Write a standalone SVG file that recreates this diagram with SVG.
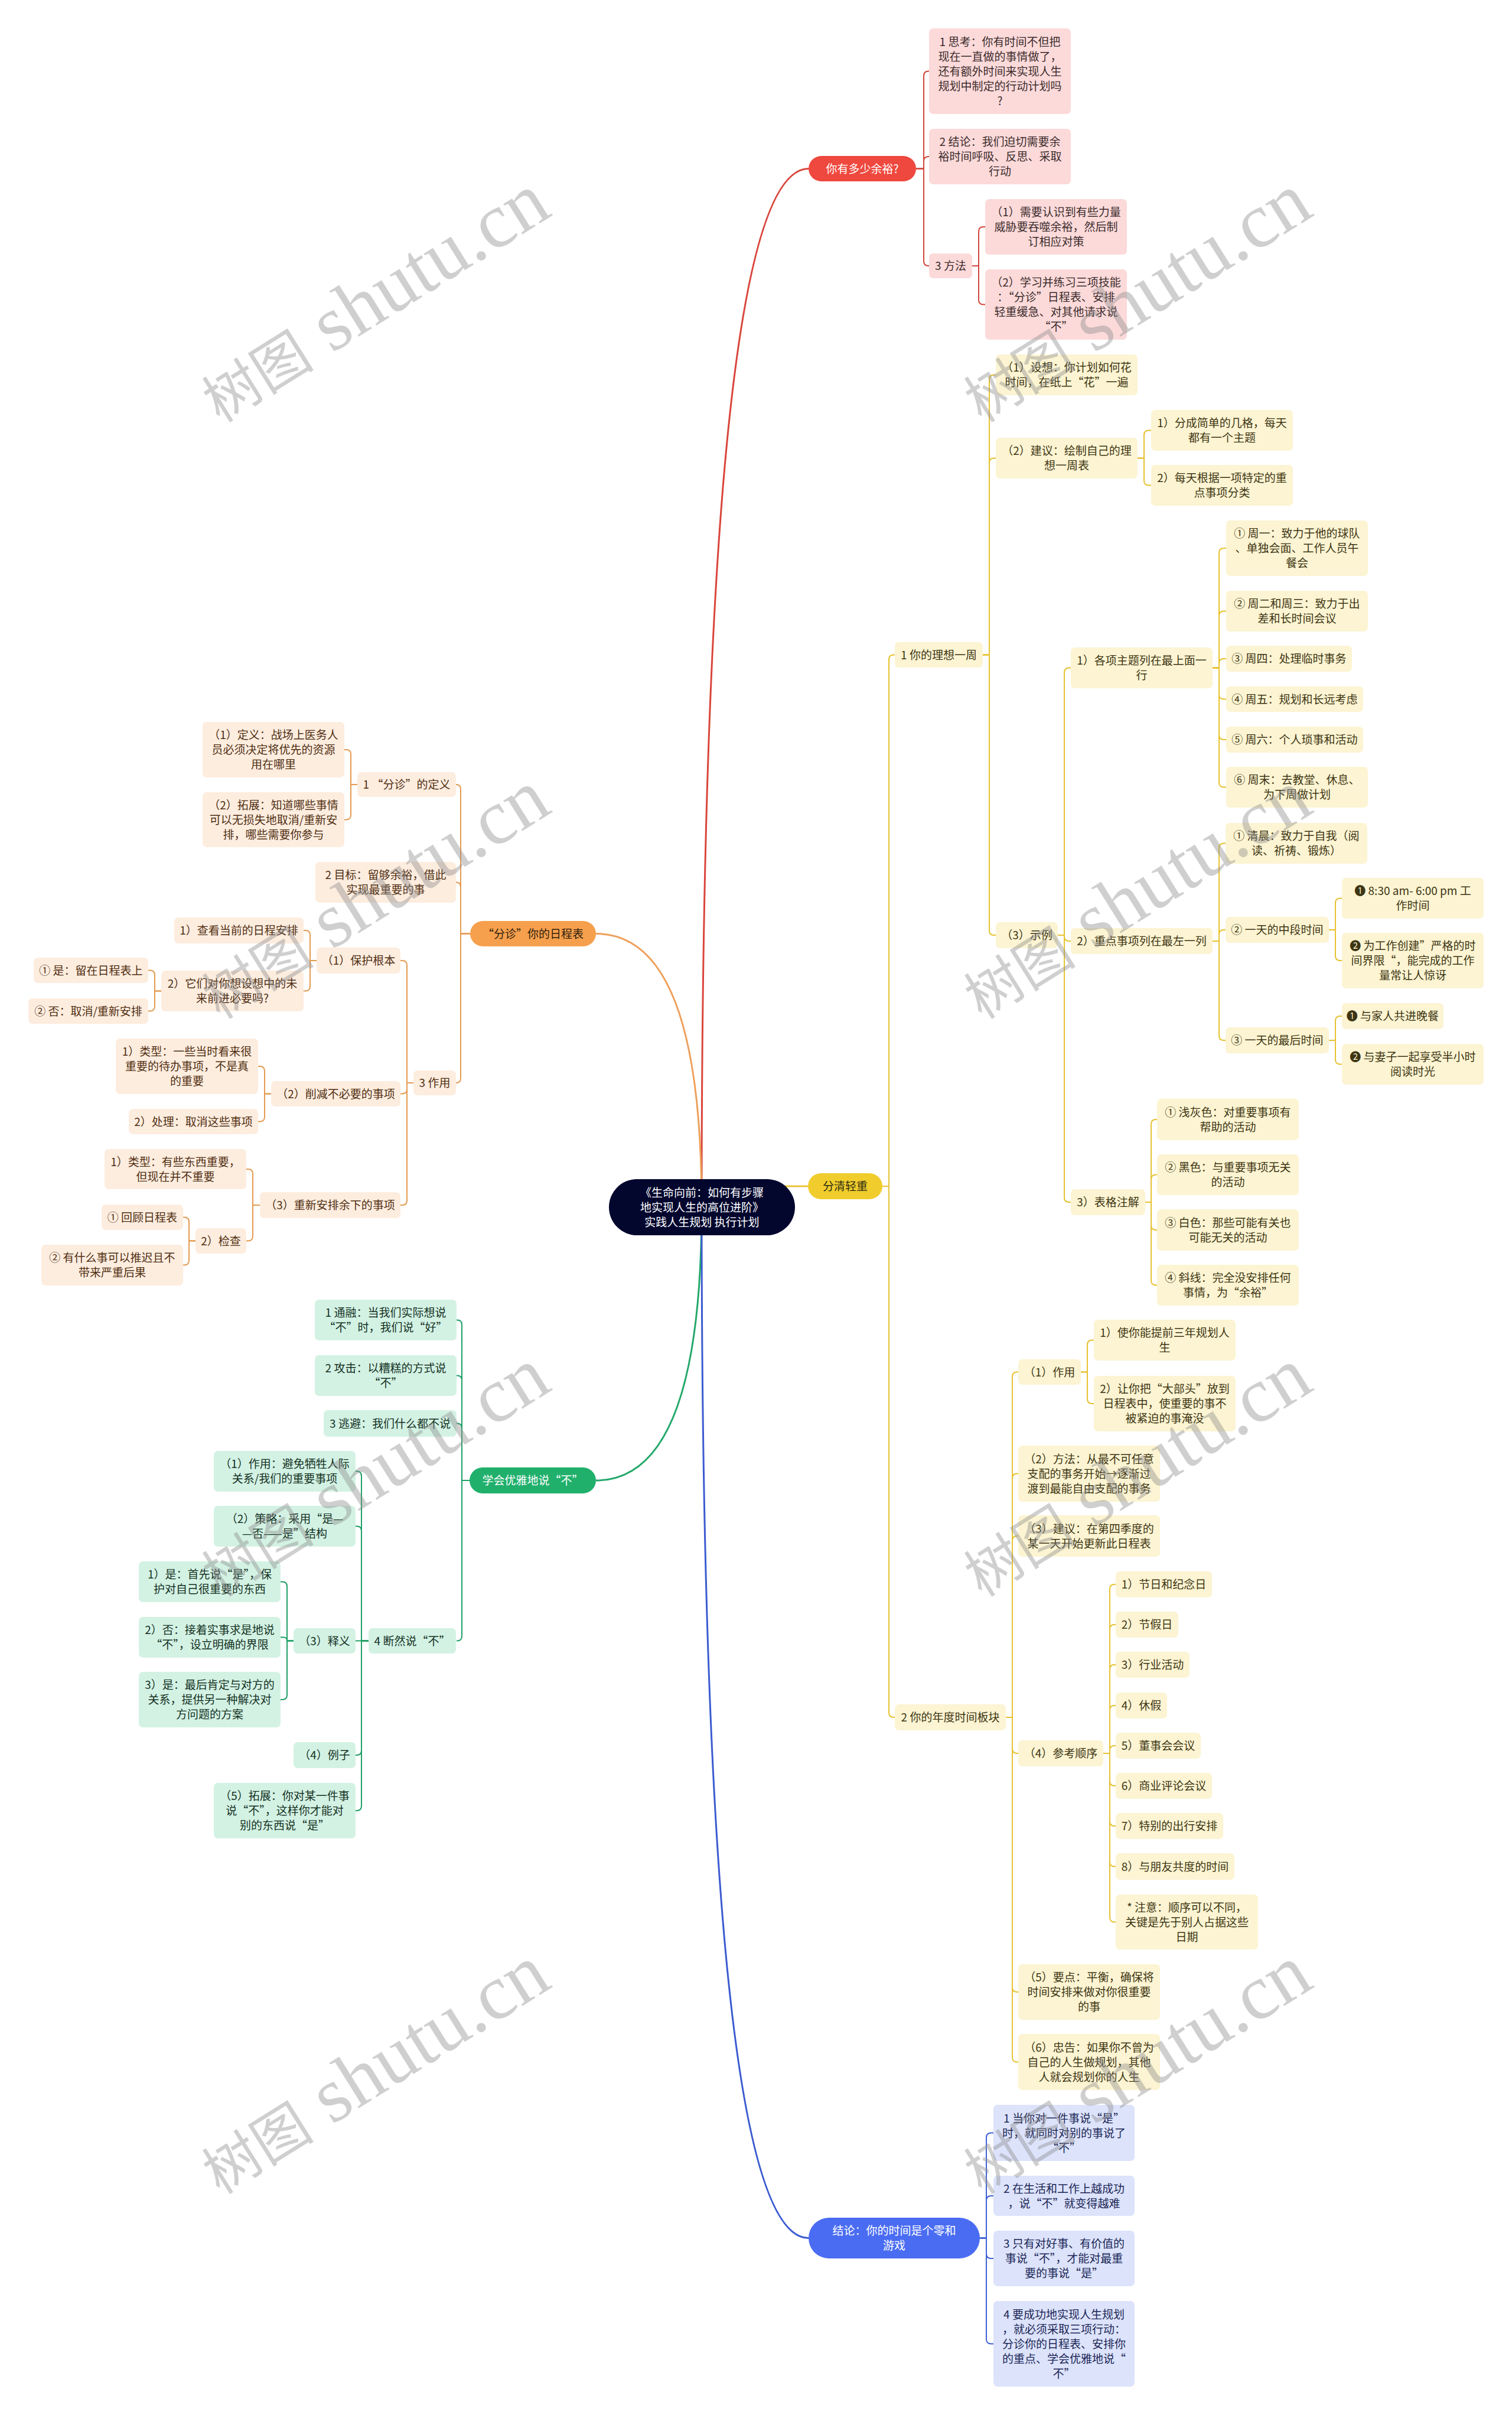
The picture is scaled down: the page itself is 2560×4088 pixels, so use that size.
<svg xmlns="http://www.w3.org/2000/svg" width="2560" height="4088" viewBox="0 0 2560 4088">
<style>
text{font-family:"Noto Sans CJK SC","Liberation Sans",sans-serif;font-size:19px;text-anchor:middle}
.c path{fill:none;stroke-width:2}
.m path{fill:none;stroke-width:3}
.cr path{stroke:#d2463c}.cy path{stroke:#e6c230}.co path{stroke:#e39a50}.cg path{stroke:#1f9f66}.cb path{stroke:#3f5fd6}
.nr rect{fill:#fcdada}.nr text{fill:#3a2b2b}
.ny rect{fill:#fcf4d2}.ny text{fill:#3d3513}
.no rect{fill:#fdeddf}.no text{fill:#4f2e12}
.ng rect{fill:#d3f2e4}.ng text{fill:#14301f}
.nb rect{fill:#dce3fb}.nb text{fill:#1b2555}
.w text{fill:#ffffff}
.wm{font-family:"Liberation Serif","Noto Sans CJK SC",serif;fill:#8c8c8c;fill-opacity:.42;text-anchor:middle}
</style>
<rect width="2560" height="4088" fill="#ffffff"/>
<g id="main-connectors" class="m">
<path d="M1188,2043 Q1188,285.5 1369,285.5" stroke="#d9453b"/>
<path d="M1188,2043 Q1188,1580.5 1009,1580.5" stroke="#eea05a"/>
<path d="M1188,2008 H1368" stroke="#e9c53a"/>
<path d="M1188,2043 Q1188,2506 1009,2506" stroke="#23a86a"/>
<path d="M1188,2043 Q1188,3788.5 1369,3788.5" stroke="#3b5bd0"/>
</g>
<g id="connectors" class="c">
<g class="cr">
<path d="M1551,285.5 H1564 V128.5 Q1564,120.5 1572,120.5 H1573"/>
<path d="M1551,285.5 H1564 V273 Q1564,265 1572,265 H1573"/>
<path d="M1551,285.5 H1564 V442 Q1564,450 1572,450 H1573"/>
<path d="M1646,450 H1657 V392 Q1657,384 1665,384 H1668"/>
<path d="M1646,450 H1657 V507.5 Q1657,515.5 1665,515.5 H1668"/>
</g>
<g class="cy">
<path d="M1494,2008 H1505 V1116.5 Q1505,1108.5 1513,1108.5 H1515"/>
<path d="M1494,2008 H1505 V2899 Q1505,2907 1513,2907 H1515"/>
<path d="M1664,1108.5 H1675 V642.5 Q1675,634.5 1683,634.5 H1686"/>
<path d="M1664,1108.5 H1675 V783.5 Q1675,775.5 1683,775.5 H1686"/>
<path d="M1664,1108.5 H1675 V1575 Q1675,1583 1683,1583 H1686"/>
<path d="M1926,775.5 H1937 V736.5 Q1937,728.5 1945,728.5 H1949"/>
<path d="M1926,775.5 H1937 V813.5 Q1937,821.5 1945,821.5 H1949"/>
<path d="M1791,1583 H1802 V1138.5 Q1802,1130.5 1810,1130.5 H1813"/>
<path d="M1791,1583 H1802 V1585 Q1802,1593 1810,1593 H1813"/>
<path d="M1791,1583 H1802 V2027 Q1802,2035 1810,2035 H1813"/>
<path d="M2053,1130.5 H2064 V936 Q2064,928 2072,928 H2076"/>
<path d="M2053,1130.5 H2064 V1042.5 Q2064,1034.5 2072,1034.5 H2076"/>
<path d="M2053,1130.5 H2064 V1123 Q2064,1115 2072,1115 H2076"/>
<path d="M2053,1130.5 H2064 V1175.5 Q2064,1183.5 2072,1183.5 H2076"/>
<path d="M2053,1130.5 H2064 V1244 Q2064,1252 2072,1252 H2076"/>
<path d="M2053,1130.5 H2064 V1324.5 Q2064,1332.5 2072,1332.5 H2076"/>
<path d="M2053,1593 H2064 V1435.5 Q2064,1427.5 2072,1427.5 H2075"/>
<path d="M2053,1593 H2064 V1582 Q2064,1574 2072,1574 H2075"/>
<path d="M2053,1593 H2064 V1753 Q2064,1761 2072,1761 H2075"/>
<path d="M2250,1574 H2261 V1528.5 Q2261,1520.5 2269,1520.5 H2272"/>
<path d="M2250,1574 H2261 V1618 Q2261,1626 2269,1626 H2272"/>
<path d="M2250,1761 H2261 V1728 Q2261,1720 2269,1720 H2272"/>
<path d="M2250,1761 H2261 V1793.5 Q2261,1801.5 2269,1801.5 H2272"/>
<path d="M1939,2035 H1949 V1903 Q1949,1895 1957,1895 H1959"/>
<path d="M1939,2035 H1949 V1996.5 Q1949,1988.5 1957,1988.5 H1959"/>
<path d="M1939,2035 H1949 V2074 Q1949,2082 1957,2082 H1959"/>
<path d="M1939,2035 H1949 V2167.5 Q1949,2175.5 1957,2175.5 H1959"/>
<path d="M1703,2907 H1714 V2330.5 Q1714,2322.5 1722,2322.5 H1724"/>
<path d="M1703,2907 H1714 V2502.5 Q1714,2494.5 1722,2494.5 H1724"/>
<path d="M1703,2907 H1714 V2608 Q1714,2600 1722,2600 H1724"/>
<path d="M1703,2907 H1714 V2960 Q1714,2968 1722,2968 H1724"/>
<path d="M1703,2907 H1714 V3364 Q1714,3372 1722,3372 H1724"/>
<path d="M1703,2907 H1714 V3482.5 Q1714,3490.5 1722,3490.5 H1724"/>
<path d="M1830,2322.5 H1841 V2276.5 Q1841,2268.5 1849,2268.5 H1852"/>
<path d="M1830,2322.5 H1841 V2368 Q1841,2376 1849,2376 H1852"/>
<path d="M1868,2968 H1879 V2690 Q1879,2682 1887,2682 H1889"/>
<path d="M1868,2968 H1879 V2758 Q1879,2750 1887,2750 H1889"/>
<path d="M1868,2968 H1879 V2826 Q1879,2818 1887,2818 H1889"/>
<path d="M1868,2968 H1879 V2895 Q1879,2887 1887,2887 H1889"/>
<path d="M1868,2968 H1879 V2963 Q1879,2955 1887,2955 H1889"/>
<path d="M1868,2968 H1879 V3015 Q1879,3023 1887,3023 H1889"/>
<path d="M1868,2968 H1879 V3083 Q1879,3091 1887,3091 H1889"/>
<path d="M1868,2968 H1879 V3151.5 Q1879,3159.5 1887,3159.5 H1889"/>
<path d="M1868,2968 H1879 V3245.5 Q1879,3253.5 1887,3253.5 H1889"/>
</g>
<g class="co">
<path d="M796,1580.5 H780 V1336 Q780,1328 772,1328"/>
<path d="M796,1580.5 H780 V1501.5 Q780,1493.5 772,1493.5"/>
<path d="M796,1580.5 H780 V1825 Q780,1833 772,1833"/>
<path d="M605,1328 H594 V1277 Q594,1269 586,1269 H583"/>
<path d="M605,1328 H594 V1379.5 Q594,1387.5 586,1387.5 H583"/>
<path d="M700,1833 H689 V1634 Q689,1626 681,1626 H678"/>
<path d="M700,1833 H689 V1843.5 Q689,1851.5 681,1851.5 H678"/>
<path d="M700,1833 H689 V2032 Q689,2040 681,2040 H678"/>
<path d="M536,1626 H525 V1583 Q525,1575 517,1575 H514"/>
<path d="M536,1626 H525 V1669.5 Q525,1677.5 517,1677.5 H514"/>
<path d="M273,1677.5 H262 V1650.5 Q262,1642.5 254,1642.5 H251"/>
<path d="M273,1677.5 H262 V1703.5 Q262,1711.5 254,1711.5 H251"/>
<path d="M459,1851.5 H448 V1813 Q448,1805 440,1805 H437"/>
<path d="M459,1851.5 H448 V1890.5 Q448,1898.5 440,1898.5 H437"/>
<path d="M440,2040 H428 V1987 Q428,1979 420,1979 H417"/>
<path d="M440,2040 H428 V2092.5 Q428,2100.5 420,2100.5 H417"/>
<path d="M331,2100.5 H320 V2068.5 Q320,2060.5 312,2060.5 H310"/>
<path d="M331,2100.5 H320 V2133.5 Q320,2141.5 312,2141.5 H310"/>
</g>
<g class="cg">
<path d="M795,2506 H782 V2242.5 Q782,2234.5 774,2234.5 H773"/>
<path d="M795,2506 H782 V2336.5 Q782,2328.5 774,2328.5 H773"/>
<path d="M795,2506 H782 V2417.5 Q782,2409.5 774,2409.5 H773"/>
<path d="M795,2506 H782 V2769.5 Q782,2777.5 774,2777.5 H773"/>
<path d="M624,2777.5 H612 V2498.5 Q612,2490.5 604,2490.5 H602"/>
<path d="M624,2777.5 H612 V2591.5 Q612,2583.5 604,2583.5 H602"/>
<path d="M624,2777.5 H602"/>
<path d="M624,2777.5 H612 V2963 Q612,2971 604,2971 H602"/>
<path d="M624,2777.5 H612 V3057 Q612,3065 604,3065 H602"/>
<path d="M497,2777.5 H486 V2685.5 Q486,2677.5 478,2677.5 H475"/>
<path d="M497,2777.5 H486 Q486,2771.5 480,2771.5 H475"/>
<path d="M497,2777.5 H486 V2869 Q486,2877 478,2877 H475"/>
</g>
<g class="cb">
<path d="M1659,3788.5 H1670 V3618.5 Q1670,3610.5 1678,3610.5 H1682"/>
<path d="M1659,3788.5 H1670 V3725 Q1670,3717 1678,3717 H1682"/>
<path d="M1659,3788.5 H1670 V3815 Q1670,3823 1678,3823 H1682"/>
<path d="M1659,3788.5 H1670 V3959.5 Q1670,3967.5 1678,3967.5 H1682"/>
</g>
</g>

<g id="root" class="w"><rect x="1031" y="1996" width="315" height="95" rx="47.5" fill="#03072e"/><text><tspan x="1188.5" y="2025.5">《生命向前：如何有步骤</tspan><tspan x="1188.5" y="2050.5">地实现人生的高位进阶》</tspan><tspan x="1188.5" y="2075.5">实践人生规划 执行计划</tspan></text></g>

<g id="r0" class="w"><rect x="1369" y="264" width="182" height="43" rx="21.5" fill="#ef483e"/><text x="1460" y="292.5">你有多少余裕?</text></g>
<g id="r1" class="nr"><rect x="1573" y="48" width="240" height="145" rx="7"/><text><tspan x="1693" y="77.5">1 思考：你有时间不但把</tspan><tspan x="1693" y="102.5">现在一直做的事情做了，</tspan><tspan x="1693" y="127.5">还有额外时间来实现人生</tspan><tspan x="1693" y="152.5">规划中制定的行动计划吗</tspan><tspan x="1693" y="177.5">?</tspan></text></g>
<g id="r2" class="nr"><rect x="1573" y="218" width="240" height="94" rx="7"/><text><tspan x="1693" y="247">2 结论：我们迫切需要余</tspan><tspan x="1693" y="272">裕时间呼吸、反思、采取</tspan><tspan x="1693" y="297">行动</tspan></text></g>
<g id="r3" class="nr"><rect x="1573" y="429" width="73" height="42" rx="7"/><text x="1609.5" y="457">3 方法</text></g>
<g id="r31" class="nr"><rect x="1668" y="337" width="240" height="94" rx="7"/><text><tspan x="1788" y="366">（1）需要认识到有些力量</tspan><tspan x="1788" y="391">威胁要吞噬余裕，然后制</tspan><tspan x="1788" y="416">订相应对策</tspan></text></g>
<g id="r32" class="nr"><rect x="1668" y="456" width="240" height="119" rx="7"/><text><tspan x="1788" y="485">（2）学习并练习三项技能</tspan><tspan x="1788" y="510">：“分诊”日程表、安排</tspan><tspan x="1788" y="535">轻重缓急、对其他请求说</tspan><tspan x="1788" y="560">“不”</tspan></text></g>

<g id="y0"><rect x="1368" y="1986" width="126" height="44" rx="22" fill="#f0cd2c"/><text x="1431" y="2015" fill="#2e2a12">分清轻重</text></g>
<g id="y1" class="ny"><rect x="1515" y="1087" width="149" height="43" rx="7"/><text x="1589.5" y="1115.5">1 你的理想一周</text></g>
<g id="y11" class="ny"><rect x="1686" y="600" width="240" height="69" rx="7"/><text><tspan x="1806" y="629">（1）设想：你计划如何花</tspan><tspan x="1806" y="654">时间，在纸上“花”一遍</tspan></text></g>
<g id="y12" class="ny"><rect x="1686" y="741" width="240" height="69" rx="7"/><text><tspan x="1806" y="770">（2）建议：绘制自己的理</tspan><tspan x="1806" y="795">想一周表</tspan></text></g>
<g id="y121" class="ny"><rect x="1949" y="694" width="240" height="69" rx="7"/><text><tspan x="2069" y="723">1）分成简单的几格，每天</tspan><tspan x="2069" y="748">都有一个主题</tspan></text></g>
<g id="y122" class="ny"><rect x="1949" y="787" width="240" height="69" rx="7"/><text><tspan x="2069" y="816">2）每天根据一项特定的重</tspan><tspan x="2069" y="841">点事项分类</tspan></text></g>
<g id="y13" class="ny"><rect x="1686" y="1561" width="105" height="44" rx="7"/><text x="1738.5" y="1590">（3）示例</text></g>
<g id="y131" class="ny"><rect x="1813" y="1096" width="240" height="69" rx="7"/><text><tspan x="1933" y="1125">1）各项主题列在最上面一</tspan><tspan x="1933" y="1150">行</tspan></text></g>
<g id="y1311" class="ny"><rect x="2076" y="881" width="240" height="94" rx="7"/><text><tspan x="2196" y="910">① 周一：致力于他的球队</tspan><tspan x="2196" y="935">、单独会面、工作人员午</tspan><tspan x="2196" y="960">餐会</tspan></text></g>
<g id="y1312" class="ny"><rect x="2076" y="1000" width="240" height="69" rx="7"/><text><tspan x="2196" y="1029">② 周二和周三：致力于出</tspan><tspan x="2196" y="1054">差和长时间会议</tspan></text></g>
<g id="y1313" class="ny"><rect x="2076" y="1093" width="213" height="44" rx="7"/><text x="2182.5" y="1122">③ 周四：处理临时事务</text></g>
<g id="y1314" class="ny"><rect x="2076" y="1162" width="232" height="43" rx="7"/><text x="2192" y="1190.5">④ 周五：规划和长远考虑</text></g>
<g id="y1315" class="ny"><rect x="2076" y="1230" width="232" height="44" rx="7"/><text x="2192" y="1259">⑤ 周六：个人琐事和活动</text></g>
<g id="y1316" class="ny"><rect x="2076" y="1298" width="240" height="69" rx="7"/><text><tspan x="2196" y="1327">⑥ 周末：去教堂、休息、</tspan><tspan x="2196" y="1352">为下周做计划</tspan></text></g>
<g id="y132" class="ny"><rect x="1813" y="1571" width="240" height="44" rx="7"/><text x="1933" y="1600">2）重点事项列在最左一列</text></g>
<g id="y1321" class="ny"><rect x="2075" y="1393" width="240" height="69" rx="7"/><text><tspan x="2195" y="1422">① 清晨：致力于自我（阅</tspan><tspan x="2195" y="1447">读、祈祷、锻炼）</tspan></text></g>
<g id="y1322" class="ny"><rect x="2075" y="1552" width="175" height="44" rx="7"/><text x="2162.5" y="1581">② 一天的中段时间</text></g>
<g id="y13221" class="ny"><rect x="2272" y="1486" width="240" height="69" rx="7"/><text><tspan x="2392" y="1515">❶ 8:30 am- 6:00 pm 工</tspan><tspan x="2392" y="1540">作时间</tspan></text></g>
<g id="y13222" class="ny"><rect x="2272" y="1579" width="240" height="94" rx="7"/><text><tspan x="2392" y="1608">❷ 为工作创建”严格的时</tspan><tspan x="2392" y="1633">间界限“，能完成的工作</tspan><tspan x="2392" y="1658">量常让人惊讶</tspan></text></g>
<g id="y1323" class="ny"><rect x="2075" y="1739" width="175" height="44" rx="7"/><text x="2162.5" y="1768">③ 一天的最后时间</text></g>
<g id="y13231" class="ny"><rect x="2272" y="1698" width="172" height="44" rx="7"/><text x="2358" y="1727">❶ 与家人共进晚餐</text></g>
<g id="y13232" class="ny"><rect x="2272" y="1767" width="240" height="69" rx="7"/><text><tspan x="2392" y="1796">❷ 与妻子一起享受半小时</tspan><tspan x="2392" y="1821">阅读时光</tspan></text></g>
<g id="y133" class="ny"><rect x="1813" y="2013" width="126" height="44" rx="7"/><text x="1876" y="2042">3）表格注解</text></g>
<g id="y1331" class="ny"><rect x="1959" y="1860" width="240" height="70" rx="7"/><text><tspan x="2079" y="1889.5">① 浅灰色：对重要事项有</tspan><tspan x="2079" y="1914.5">帮助的活动</tspan></text></g>
<g id="y1332" class="ny"><rect x="1959" y="1954" width="240" height="69" rx="7"/><text><tspan x="2079" y="1983">② 黑色：与重要事项无关</tspan><tspan x="2079" y="2008">的活动</tspan></text></g>
<g id="y1333" class="ny"><rect x="1959" y="2047" width="240" height="70" rx="7"/><text><tspan x="2079" y="2076.5">③ 白色：那些可能有关也</tspan><tspan x="2079" y="2101.5">可能无关的活动</tspan></text></g>
<g id="y1334" class="ny"><rect x="1959" y="2141" width="240" height="69" rx="7"/><text><tspan x="2079" y="2170">④ 斜线：完全没安排任何</tspan><tspan x="2079" y="2195">事情，为“余裕”</tspan></text></g>
<g id="y2" class="ny"><rect x="1515" y="2885" width="188" height="44" rx="7"/><text x="1609" y="2914">2 你的年度时间板块</text></g>
<g id="y21" class="ny"><rect x="1724" y="2301" width="106" height="43" rx="7"/><text x="1777" y="2329.5">（1）作用</text></g>
<g id="y211" class="ny"><rect x="1852" y="2234" width="240" height="69" rx="7"/><text><tspan x="1972" y="2263">1）使你能提前三年规划人</tspan><tspan x="1972" y="2288">生</tspan></text></g>
<g id="y212" class="ny"><rect x="1852" y="2329" width="240" height="94" rx="7"/><text><tspan x="1972" y="2358">2）让你把“大部头”放到</tspan><tspan x="1972" y="2383">日程表中，使重要的事不</tspan><tspan x="1972" y="2408">被紧迫的事淹没</tspan></text></g>
<g id="y22" class="ny"><rect x="1724" y="2447" width="240" height="95" rx="7"/><text><tspan x="1844" y="2476.5">（2）方法：从最不可任意</tspan><tspan x="1844" y="2501.5">支配的事务开始→逐渐过</tspan><tspan x="1844" y="2526.5">渡到最能自由支配的事务</tspan></text></g>
<g id="y23" class="ny"><rect x="1724" y="2565" width="240" height="70" rx="7"/><text><tspan x="1844" y="2594.5">（3）建议：在第四季度的</tspan><tspan x="1844" y="2619.5">某一天开始更新此日程表</tspan></text></g>
<g id="y24" class="ny"><rect x="1724" y="2946" width="144" height="44" rx="7"/><text x="1796" y="2975">（4）参考顺序</text></g>
<g id="y241" class="ny"><rect x="1889" y="2660" width="163" height="44" rx="7"/><text x="1970.5" y="2689">1）节日和纪念日</text></g>
<g id="y242" class="ny"><rect x="1889" y="2728" width="106" height="44" rx="7"/><text x="1942" y="2757">2）节假日</text></g>
<g id="y243" class="ny"><rect x="1889" y="2796" width="125" height="44" rx="7"/><text x="1951.5" y="2825">3）行业活动</text></g>
<g id="y244" class="ny"><rect x="1889" y="2865" width="87" height="44" rx="7"/><text x="1932.5" y="2894">4）休假</text></g>
<g id="y245" class="ny"><rect x="1889" y="2933" width="144" height="44" rx="7"/><text x="1961" y="2962">5）董事会会议</text></g>
<g id="y246" class="ny"><rect x="1889" y="3001" width="163" height="44" rx="7"/><text x="1970.5" y="3030">6）商业评论会议</text></g>
<g id="y247" class="ny"><rect x="1889" y="3069" width="182" height="44" rx="7"/><text x="1980" y="3098">7）特别的出行安排</text></g>
<g id="y248" class="ny"><rect x="1889" y="3137" width="201" height="45" rx="7"/><text x="1989.5" y="3166.5">8）与朋友共度的时间</text></g>
<g id="y249" class="ny"><rect x="1889" y="3207" width="241" height="93" rx="7"/><text><tspan x="2009.5" y="3235.5">* 注意：顺序可以不同，</tspan><tspan x="2009.5" y="3260.5">关键是先于别人占据这些</tspan><tspan x="2009.5" y="3285.5">日期</tspan></text></g>
<g id="y25" class="ny"><rect x="1724" y="3325" width="240" height="94" rx="7"/><text><tspan x="1844" y="3354">（5）要点：平衡，确保将</tspan><tspan x="1844" y="3379">时间安排来做对你很重要</tspan><tspan x="1844" y="3404">的事</tspan></text></g>
<g id="y26" class="ny"><rect x="1724" y="3443" width="240" height="95" rx="7"/><text><tspan x="1844" y="3472.5">（6）忠告：如果你不曾为</tspan><tspan x="1844" y="3497.5">自己的人生做规划，其他</tspan><tspan x="1844" y="3522.5">人就会规划你的人生</tspan></text></g>

<g id="o0"><rect x="796" y="1559" width="213" height="43" rx="21.5" fill="#f6a04d"/><text x="902.5" y="1587.5" fill="#2f1d0c">“分诊”你的日程表</text></g>
<g id="o1" class="no"><rect x="605" y="1307" width="167" height="42" rx="7"/><text x="688.5" y="1335">1 “分诊”的定义</text></g>
<g id="o11" class="no"><rect x="343" y="1222" width="240" height="94" rx="7"/><text><tspan x="463" y="1251">（1）定义：战场上医务人</tspan><tspan x="463" y="1276">员必须决定将优先的资源</tspan><tspan x="463" y="1301">用在哪里</tspan></text></g>
<g id="o12" class="no"><rect x="343" y="1341" width="240" height="93" rx="7"/><text><tspan x="463" y="1369.5">（2）拓展：知道哪些事情</tspan><tspan x="463" y="1394.5">可以无损失地取消/重新安</tspan><tspan x="463" y="1419.5">排，哪些需要你参与</tspan></text></g>
<g id="o2" class="no"><rect x="534" y="1459" width="238" height="69" rx="7"/><text><tspan x="653" y="1488">2 目标：留够余裕，借此</tspan><tspan x="653" y="1513">实现最重要的事</tspan></text></g>
<g id="o3" class="no"><rect x="700" y="1812" width="72" height="42" rx="7"/><text x="736" y="1840">3 作用</text></g>
<g id="o31" class="no"><rect x="536" y="1604" width="142" height="44" rx="7"/><text x="607" y="1633">（1）保护根本</text></g>
<g id="o311" class="no"><rect x="295" y="1553" width="219" height="44" rx="7"/><text x="404.5" y="1582">1）查看当前的日程安排</text></g>
<g id="o312" class="no"><rect x="273" y="1643" width="241" height="69" rx="7"/><text><tspan x="393.5" y="1672">2）它们对你想设想中的未</tspan><tspan x="393.5" y="1697">来前进必要吗?</tspan></text></g>
<g id="o3121" class="no"><rect x="57" y="1621" width="194" height="43" rx="7"/><text x="154" y="1649.5">① 是：留在日程表上</text></g>
<g id="o3122" class="no"><rect x="48" y="1690" width="203" height="43" rx="7"/><text x="149.5" y="1718.5">② 否：取消/重新安排</text></g>
<g id="o32" class="no"><rect x="459" y="1830" width="219" height="43" rx="7"/><text x="568.5" y="1858.5">（2）削减不必要的事项</text></g>
<g id="o321" class="no"><rect x="196" y="1758" width="241" height="94" rx="7"/><text><tspan x="316.5" y="1787">1）类型：一些当时看来很</tspan><tspan x="316.5" y="1812">重要的待办事项，不是真</tspan><tspan x="316.5" y="1837">的重要</tspan></text></g>
<g id="o322" class="no"><rect x="218" y="1877" width="219" height="43" rx="7"/><text x="327.5" y="1905.5">2）处理：取消这些事项</text></g>
<g id="o33" class="no"><rect x="440" y="2018" width="238" height="44" rx="7"/><text x="559" y="2047">（3）重新安排余下的事项</text></g>
<g id="o331" class="no"><rect x="177" y="1945" width="240" height="68" rx="7"/><text><tspan x="297" y="1973.5">1）类型：有些东西重要，</tspan><tspan x="297" y="1998.5">但现在并不重要</tspan></text></g>
<g id="o332" class="no"><rect x="331" y="2079" width="86" height="43" rx="7"/><text x="374" y="2107.5">2）检查</text></g>
<g id="o3321" class="no"><rect x="172" y="2039" width="138" height="43" rx="7"/><text x="241" y="2067.5">① 回顾日程表</text></g>
<g id="o3322" class="no"><rect x="70" y="2107" width="240" height="69" rx="7"/><text><tspan x="190" y="2136">② 有什么事可以推迟且不</tspan><tspan x="190" y="2161">带来严重后果</tspan></text></g>

<g id="g0" class="w"><rect x="795" y="2484" width="214" height="44" rx="22" fill="#20b06c"/><text x="902" y="2513">学会优雅地说“不”</text></g>
<g id="g1" class="ng"><rect x="533" y="2200" width="240" height="69" rx="7"/><text><tspan x="653" y="2229">1 通融：当我们实际想说</tspan><tspan x="653" y="2254">“不”时，我们说“好”</tspan></text></g>
<g id="g2" class="ng"><rect x="533" y="2294" width="240" height="69" rx="7"/><text><tspan x="653" y="2323">2 攻击：以糟糕的方式说</tspan><tspan x="653" y="2348">“不”</tspan></text></g>
<g id="g3" class="ng"><rect x="548" y="2387" width="225" height="45" rx="7"/><text x="660.5" y="2416.5">3 逃避：我们什么都不说</text></g>
<g id="g4" class="ng"><rect x="624" y="2756" width="148" height="43" rx="7"/><text x="698" y="2784.5">4 断然说“不”</text></g>
<g id="g41" class="ng"><rect x="362" y="2456" width="240" height="69" rx="7"/><text><tspan x="482" y="2485">（1）作用：避免牺牲人际</tspan><tspan x="482" y="2510">关系/我们的重要事项</tspan></text></g>
<g id="g42" class="ng"><rect x="362" y="2549" width="240" height="69" rx="7"/><text><tspan x="482" y="2578">（2）策略：采用“是—</tspan><tspan x="482" y="2603">—否——是”结构</tspan></text></g>
<g id="g43" class="ng"><rect x="497" y="2756" width="105" height="43" rx="7"/><text x="549.5" y="2784.5">（3）释义</text></g>
<g id="g431" class="ng"><rect x="235" y="2643" width="240" height="69" rx="7"/><text><tspan x="355" y="2672">1）是：首先说“是”，保</tspan><tspan x="355" y="2697">护对自己很重要的东西</tspan></text></g>
<g id="g432" class="ng"><rect x="235" y="2737" width="240" height="69" rx="7"/><text><tspan x="355" y="2766">2）否：接着实事求是地说</tspan><tspan x="355" y="2791">“不”，设立明确的界限</tspan></text></g>
<g id="g433" class="ng"><rect x="235" y="2830" width="240" height="94" rx="7"/><text><tspan x="355" y="2859">3）是：最后肯定与对方的</tspan><tspan x="355" y="2884">关系，提供另一种解决对</tspan><tspan x="355" y="2909">方问题的方案</tspan></text></g>
<g id="g44" class="ng"><rect x="497" y="2949" width="105" height="44" rx="7"/><text x="549.5" y="2978">（4）例子</text></g>
<g id="g45" class="ng"><rect x="362" y="3018" width="240" height="94" rx="7"/><text><tspan x="482" y="3047">（5）拓展：你对某一件事</tspan><tspan x="482" y="3072">说“不”，这样你才能对</tspan><tspan x="482" y="3097">别的东西说“是”</tspan></text></g>

<g id="b0" class="w"><rect x="1369" y="3754" width="290" height="69" rx="34.5" fill="#4a6cf2"/><text><tspan x="1514" y="3783">结论：你的时间是个零和</tspan><tspan x="1514" y="3808">游戏</tspan></text></g>
<g id="b1" class="nb"><rect x="1682" y="3563" width="239" height="95" rx="7"/><text><tspan x="1801.5" y="3592.5">1 当你对一件事说“是”</tspan><tspan x="1801.5" y="3617.5">时，就同时对别的事说了</tspan><tspan x="1801.5" y="3642.5">“不”</tspan></text></g>
<g id="b2" class="nb"><rect x="1682" y="3683" width="239" height="68" rx="7"/><text><tspan x="1801.5" y="3711.5">2 在生活和工作上越成功</tspan><tspan x="1801.5" y="3736.5">，说“不”就变得越难</tspan></text></g>
<g id="b3" class="nb"><rect x="1682" y="3776" width="239" height="94" rx="7"/><text><tspan x="1801.5" y="3805">3 只有对好事、有价值的</tspan><tspan x="1801.5" y="3830">事说“不”，才能对最重</tspan><tspan x="1801.5" y="3855">要的事说“是”</tspan></text></g>
<g id="b4" class="nb"><rect x="1682" y="3895" width="239" height="145" rx="7"/><text><tspan x="1801.5" y="3924.5">4 要成功地实现人生规划</tspan><tspan x="1801.5" y="3949.5">，就必须采取三项行动：</tspan><tspan x="1801.5" y="3974.5">分诊你的日程表、安排你</tspan><tspan x="1801.5" y="3999.5">的重点、学会优雅地说“</tspan><tspan x="1801.5" y="4024.5">不”</tspan></text></g>

<g id="watermarks">
<text class="wm" transform="translate(655,540) rotate(-32)"><tspan font-size="95">树图</tspan><tspan font-size="132"> shutu.cn</tspan></text>
<text class="wm" transform="translate(1945,540) rotate(-32)"><tspan font-size="95">树图</tspan><tspan font-size="132"> shutu.cn</tspan></text>
<text class="wm" transform="translate(655,1550) rotate(-32)"><tspan font-size="95">树图</tspan><tspan font-size="132"> shutu.cn</tspan></text>
<text class="wm" transform="translate(1945,1550) rotate(-32)"><tspan font-size="95">树图</tspan><tspan font-size="132"> shutu.cn</tspan></text>
<text class="wm" transform="translate(655,2528) rotate(-32)"><tspan font-size="95">树图</tspan><tspan font-size="132"> shutu.cn</tspan></text>
<text class="wm" transform="translate(1945,2528) rotate(-32)"><tspan font-size="95">树图</tspan><tspan font-size="132"> shutu.cn</tspan></text>
<text class="wm" transform="translate(655,3539) rotate(-32)"><tspan font-size="95">树图</tspan><tspan font-size="132"> shutu.cn</tspan></text>
<text class="wm" transform="translate(1945,3539) rotate(-32)"><tspan font-size="95">树图</tspan><tspan font-size="132"> shutu.cn</tspan></text>
</g>
</svg>
